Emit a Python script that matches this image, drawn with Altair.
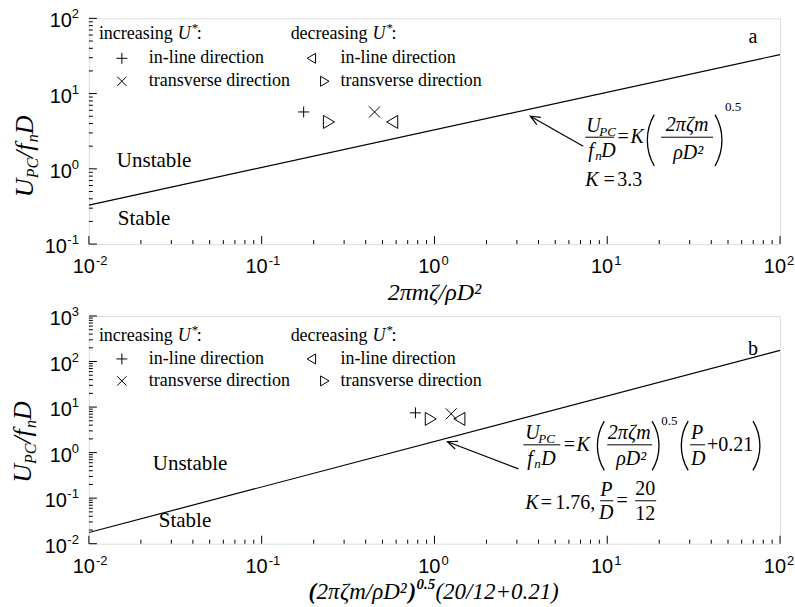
import math
import altair as alt
import pandas as pd

SERIF = "Liberation Serif"
SANS = "Liberation Sans"

# plot-area geometry of the two panels
W = 692
H_A, H_B = 226, 228
GAP = 72

# decade exponents of the axes
x_exp = [-2, -1, 0, 1, 2]
ya_exp = [-1, 0, 1, 2]
yb_exp = [-2, -1, 0, 1, 2, 3]

# stability boundaries (end points over the x range)
fit_a_x = [0.01, 100.0]
fit_a_y = [0.33, 33.0]      # K = 3.3, exponent 0.5
fit_b_x = [0.01, 100.0]
fit_b_y = [0.0176, 176.0]   # K = 1.76, linear

# onset of instability
kinds = ["inc_inline", "dec_transverse", "inc_transverse", "dec_inline"]
a_x = [0.175, 0.244, 0.45, 0.572]
a_y = [5.7, 4.2, 5.7, 4.2]
b_x = [0.776, 0.948, 1.25, 1.40]
b_y = [7.46, 5.5, 7.1, 5.5]

# annotation arrows: tail x, tail y, tip x, tip y (data units)
arrow_a = [7.26, 2.0, 3.59, 5.01]
arrow_b = [3.06, 0.44, 1.19, 1.73]

# open symbols drawn as paths in the [-1, 1] box
PLUS = "M -1 0 L 1 0 M 0 -1 L 0 1"
CROSS = "M -0.85 -0.85 L 0.85 0.85 M -0.85 0.85 L 0.85 -0.85"
TRI_L = "M -0.9 0 L 0.8 -1 L 0.8 1 Z"
TRI_R = "M 0.9 0 L -0.8 -1 L -0.8 1 Z"
HEAD = "M -1 -0.42 L 0 0 L -1 0.42"
SHAPE = {"inc_inline": PLUS, "inc_transverse": CROSS, "dec_inline": TRI_L, "dec_transverse": TRI_R}
SIZE = {"inc_inline": 121, "inc_transverse": 169, "dec_inline": 169, "dec_transverse": 169}

ONE = alt.Data(values=[{"k": 0}])


def txt(s, x, y, size=18, italic=False, bold=False, align="left",
        baseline="middle", font=SERIF, angle=0):
    kw = dict(text=s, fontSize=size, font=font, align=align, baseline=baseline,
              color="black", fontStyle="italic" if italic else "normal",
              fontWeight="bold" if bold else "normal")
    if angle:
        kw["angle"] = angle
    return alt.Chart(ONE).mark_text(**kw).encode(x=alt.value(x), y=alt.value(y))


def hbar(x1, x2, y):
    return alt.Chart(ONE).mark_rule(color="black", strokeWidth=1).encode(
        x=alt.value(x1), x2=alt.value(x2), y=alt.value(y))


def paren(cx, cy, h, right=False, sag=7.0, lw=1.3):
    a = 2 * math.atan(2 * sag / h)
    r = (h / 2) / math.sin(a)
    if right:
        ccx, mid = cx + sag / 2 - r, math.pi / 2
    else:
        ccx, mid = cx - sag / 2 + r, 3 * math.pi / 2
    return alt.Chart(ONE).mark_arc(
        x=ccx, y=cy, radius=r, radius2=r - lw, theta=mid - a, theta2=mid + a,
        color="black").encode(opacity=alt.value(1))


def sym(shape, x, y, size):
    return alt.Chart(ONE).mark_point(shape=shape, size=size, filled=False, color="black",
                                     strokeWidth=1, opacity=1).encode(
        x=alt.value(x), y=alt.value(y))


def row(pieces, x0, y0, vertical=False):
    """Lay out (text, size, italic, bold, shift, advance) pieces along a baseline."""
    out = []
    pos = x0 if not vertical else y0
    for s, size, it, bd, shift, adv in pieces:
        if vertical:
            out.append(txt(s, x0 + shift, pos, size, it, bd, baseline="alphabetic", angle=270))
            pos -= adv
        else:
            out.append(txt(s, pos, y0 + shift, size, it, bd, baseline="alphabetic"))
            pos += adv
    return out


def legend(y1, y2, y3):
    L = []
    L += [txt("increasing", 10, y1), txt("U", 89, y1, italic=True),
          txt("*", 103, y1 - 6, size=13), txt(":", 108, y1)]
    L += [txt("decreasing", 202, y1), txt("U", 284, y1, italic=True),
          txt("*", 298, y1 - 6, size=13), txt(":", 303, y1)]
    L += [sym(PLUS, 33, y2, 121), txt("in-line direction", 60, y2),
          sym(TRI_L, 223, y2, 100), txt("in-line direction", 252, y2)]
    L += [sym(CROSS, 33, y3, 121), txt("transverse direction", 60, y3),
          sym(TRI_R, 236, y3, 100), txt("transverse direction", 252, y3)]
    return L


def panel(H, ydom, y_exp, fit_x, fit_y, px, py, arrow, head_angle, extras):
    xs = alt.Scale(type="log", domain=[0.01, 100], nice=False)
    ys = alt.Scale(type="log", domain=ydom, nice=False)

    def X(f):
        return alt.X(f, type="quantitative", scale=xs, axis=None)

    def Y(f):
        return alt.Y(f, type="quantitative", scale=ys, axis=None)

    layers = []
    layers.append(alt.Chart(pd.DataFrame({"x": fit_x, "y": fit_y})).mark_line(
        color="black", strokeWidth=1.2, clip=True).encode(x=X("x"), y=Y("y")))

    for k, xv, yv in zip(kinds, px, py):
        layers.append(alt.Chart(pd.DataFrame({"x": [xv], "y": [yv]})).mark_point(
            shape=SHAPE[k], size=SIZE[k], filled=False, color="black",
            strokeWidth=1, opacity=1).encode(x=X("x"), y=Y("y")))

    # arrow to the boundary
    adf = pd.DataFrame({"x": [arrow[0]], "y": [arrow[1]], "x2": [arrow[2]], "y2": [arrow[3]]})
    layers.append(alt.Chart(adf).mark_rule(color="black", strokeWidth=1.2).encode(
        x=X("x"), y=Y("y"), x2="x2:Q", y2="y2:Q"))
    layers.append(alt.Chart(adf).mark_point(
        shape=HEAD, size=380, angle=head_angle, filled=False, color="black",
        strokeWidth=1.2, opacity=1).encode(x=X("x2"), y=Y("y2")))

    # inward ticks, majors and minors
    xmaj = pd.DataFrame({"v": [10.0 ** e for e in x_exp]})
    xmin = pd.DataFrame({"v": [k * 10.0 ** e for e in x_exp[:-1] for k in range(2, 10)]})
    ymaj = pd.DataFrame({"v": [10.0 ** e for e in y_exp]})
    ymin = pd.DataFrame({"v": [k * 10.0 ** e for e in y_exp[:-1] for k in range(2, 10)]})
    for df, ln in ((xmaj, 8), (xmin, 4)):
        layers.append(alt.Chart(df).mark_rule(color="black", strokeWidth=1).encode(
            x=X("v"), y=alt.value(H), y2=alt.value(H - ln)))
    for df, ln in ((ymaj, 8), (ymin, 4)):
        layers.append(alt.Chart(df).mark_rule(color="black", strokeWidth=1).encode(
            y=Y("v"), x=alt.value(0), x2=alt.value(ln)))

    # tick labels: 10 with a raised exponent
    xl = pd.DataFrame({"v": [10.0 ** e for e in x_exp], "e": [str(e) for e in x_exp]})
    layers.append(alt.Chart(xl).mark_text(text="10", align="right", dx=6, fontSize=20,
                                          font=SANS, baseline="middle", color="black").encode(
        x=X("v"), y=alt.value(H + 23)))
    layers.append(alt.Chart(xl).mark_text(align="left", dx=7, fontSize=13, font=SANS,
                                          baseline="middle", color="black").encode(
        x=X("v"), y=alt.value(H + 17), text="e:N"))
    yl = pd.DataFrame({"v": [10.0 ** e for e in y_exp], "e": [str(e) for e in y_exp],
                       "neg": [e < 0 for e in y_exp]})
    layers.append(alt.Chart(yl).mark_text(align="right", dy=-4, fontSize=13, font=SANS,
                                          baseline="middle", color="black").encode(
        y=Y("v"), x=alt.value(-10), text="e:N"))
    layers.append(alt.Chart(yl).transform_filter("!datum.neg").mark_text(
        text="10", align="right", dy=3, fontSize=20, font=SANS, baseline="middle",
        color="black").encode(y=Y("v"), x=alt.value(-17)))
    layers.append(alt.Chart(yl).transform_filter("datum.neg").mark_text(
        text="10", align="right", dy=3, fontSize=20, font=SANS, baseline="middle",
        color="black").encode(y=Y("v"), x=alt.value(-22)))

    layers += extras
    return alt.layer(*layers).properties(width=W, height=H)


def ytitle(xb, yb):
    return row([("U", 26, True, False, 0, 18.8), ("PC", 16, True, False, 5, 20.4),
                ("/", 26, True, False, 0, 7.2), ("f", 26, True, False, 0, 8.5),
                ("n", 16, True, False, 5, 8.0), ("D", 26, True, False, 0, 18.8)],
               xb, yb, vertical=True)


# ---------------- panel a ----------------
extra_a = []
# anchor so the page origin sits 88 px left of and 17 px above the plot area
extra_a.append(alt.Chart(ONE).mark_rule(strokeOpacity=0).encode(
    x=alt.value(-88), x2=alt.value(-88), y=alt.value(-17), y2=alt.value(-16)))
extra_a += legend(16, 40, 63)
extra_a.append(txt("a", 665, 19, size=20, align="center"))
extra_a.append(txt("Unstable", 28, 143, size=21))
extra_a.append(txt("Stable", 29, 201, size=21))
extra_a += [
    txt("U", 498, 108, 20, True), txt("PC", 511, 114, 13, True), hbar(497, 526, 119),
    txt("f", 500, 133, 20, True), txt("n", 507, 138, 13, True), txt("D", 513, 133, 20, True),
    txt("=", 535, 119, 20, align="center"), txt("K", 549, 119, 20, True, align="center"),
    paren(562, 122, 52),
    txt("2πζm", 599, 107, 20, True, align="center"), hbar(573, 625, 119),
    txt("ρD²", 600, 135, 20, True, align="center"),
    paren(631, 122, 52, right=True),
    txt("0.5", 637, 89, 13),
    txt("K", 497, 162, 20, True), txt("=", 521, 162, 20, align="center"), txt("3.3", 529, 162, 20),
]
extra_a += ytitle(-56, 179)
extra_a.append(txt("2πmζ/ρD²", W / 2, 275, size=24, italic=True, align="center"))

top = panel(H_A, [0.1, 100], ya_exp, fit_a_x, fit_a_y, a_x, a_y, arrow_a, 209.5, extra_a)

# ---------------- panel b ----------------
extra_b = []
extra_b += legend(20, 43, 65)
extra_b.append(txt("b", 665, 33, size=20, align="center"))
extra_b.append(txt("Unstable", 64, 148, size=21))
extra_b.append(txt("Stable", 70, 205, size=21))
extra_b += [
    txt("U", 437, 117, 20, True), txt("PC", 450, 123, 13, True), hbar(435, 472, 129),
    txt("f", 439, 143, 20, True), txt("n", 446, 148, 13, True), txt("D", 453, 143, 20, True),
    txt("=", 481, 129, 20, align="center"), txt("K", 495, 129, 20, True, align="center"),
    paren(512, 130, 50),
    txt("2πζm", 541, 117, 20, True, align="center"), hbar(519, 564, 129),
    txt("ρD²", 543, 143, 20, True, align="center"),
    paren(568, 130, 50, right=True),
    txt("0.5", 573, 105, 13),
    paren(596, 130, 50),
    txt("P", 609, 117, 20, True, align="center"), hbar(602, 617, 129),
    txt("D", 610, 143, 20, True, align="center"),
    txt("+0.21", 619, 129, 20),
    paren(669, 130, 50, right=True),
    txt("K", 437, 187, 20, True), txt("=", 458, 187, 20, align="center"), txt("1.76,", 467, 187, 20),
    txt("P", 518, 174, 20, True, align="center"), hbar(512, 525, 185),
    txt("D", 518, 197, 20, True, align="center"),
    txt("=", 534, 185, 20, align="center"),
    txt("20", 557, 173, 20, align="center"), hbar(547, 568, 185),
    txt("12", 557, 198, 20, align="center"),
]
extra_b += ytitle(-58, 167)
extra_b += row([("(", 23, True, True, 0, 8), ("2πζm/ρD²", 23, True, False, 0, 92),
                (")", 23, True, True, 0, 8), ("0.5", 15, True, True, -10, 19),
                ("(20/12+0.21)", 23, True, False, 0, 124)], 220, 283)

bottom = panel(H_B, [0.01, 1000], yb_exp, fit_b_x, fit_b_y, b_x, b_y, arrow_b, 200.8, extra_b)

chart = alt.vconcat(top, bottom, spacing=GAP, bounds="flush").properties(
    padding={"left": 0, "top": 0, "right": 0, "bottom": 0}
).configure_view(stroke="black", strokeWidth=1.5).configure(background="white")

chart.save("out.html", embed_options={"renderer": "svg", "actions": False})
